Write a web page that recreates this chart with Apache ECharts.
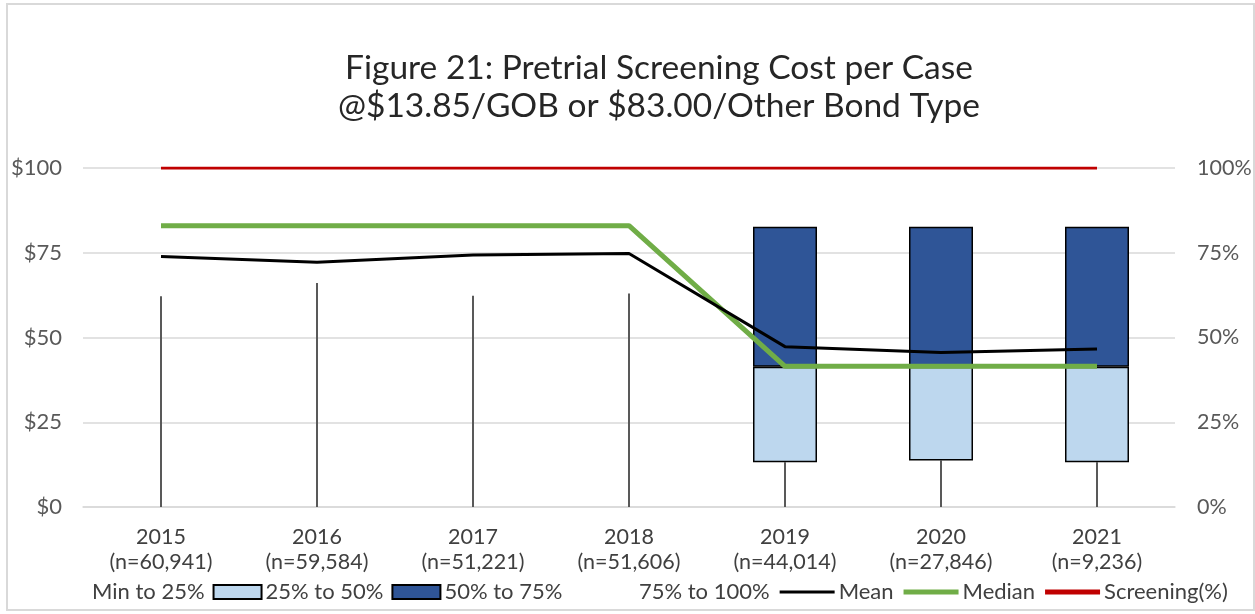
<!DOCTYPE html>
<html>
<head>
<meta charset="utf-8">
<script src="https://cdn.jsdelivr.net/npm/echarts@6/dist/echarts.min.js"></script>
<style>
body { margin: 0; background: #ffffff; }
#chart { position: absolute; left: 0; top: 0; width: 1255px; height: 614px; }
.frame { position: absolute; left: 6px; top: 3px; width: 1249px; height: 608px; border: 2px solid #d9d9d9; box-sizing: border-box; pointer-events: none; }
</style>
</head>
<body>
<div id="chart"></div>
<div class="frame"></div>
<script>
// categories
const years = ['2015', '2016', '2017', '2018', '2019', '2020', '2021']
const caseCounts = ['60,941', '59,584', '51,221', '51,606', '44,014', '27,846', '9,236']

// whiskers (min to 25%)
const whiskerLow = [0, 0, 0, 0, 0, 0, 0]
const whiskerHigh = [62.2, 66.1, 62.3, 63.0, 13.2, 13.7, 13.2]

// stacked box parts
const minTo25 = ['-', '-', '-', '-', 13.2, 13.7, 13.2]
const p25to50 = ['-', '-', '-', '-', 28.2, 27.7, 28.2]
const p50to75 = ['-', '-', '-', '-', 41.3, 41.3, 41.3]
const p75to100 = ['-', '-', '-', '-', '-', '-', '-']

// lines
const meanCost = [73.9, 72.2, 74.3, 74.8, 47.3, 45.6, 46.6]
const medianCost = [83.0, 83.0, 83.0, 83.0, 41.5, 41.5, 41.5]
const screeningPct = [1, 1, 1, 1, 1, 1, 1]

const labelFont = 'Lato'
const chart = echarts.init(document.getElementById('chart'))

// flat bars used as line icons in the legend (thickness comes from aspect ratio)
const lineIcon = h => 'path://M0 0H55V' + h + 'H0Z'

const legendText = { fontFamily: labelFont, fontSize: 22, color: '#404040', padding: [0, 0, 0, -1] }

const option = {
  animation: false,
  title: {
    text: 'Figure 21: Pretrial Screening Cost per Case\n@$13.85/GOB or $83.00/Other Bond Type',
    left: 654,
    top: 44,
    textAlign: 'center',
    textStyle: {
      fontFamily: labelFont,
      fontSize: 33.5,
      fontWeight: 'normal',
      lineHeight: 38,
      color: '#262626'
    }
  },
  legend: [
    {
      left: 35,
      top: 576,
      itemWidth: 48,
      itemHeight: 14,
      itemGap: 8,
      selectedMode: false,
      textStyle: legendText,
      data: [
        { name: 'Min to 25%', icon: 'rect' },
        { name: '25% to 50%', icon: 'rect' },
        { name: '50% to 75%', icon: 'rect' }
      ]
    },
    {
      left: 575,
      top: 576,
      itemWidth: 55,
      itemHeight: 14,
      itemGap: 10,
      selectedMode: false,
      textStyle: legendText,
      data: [
        { name: '75% to 100%', icon: 'rect' },
        { name: 'Mean', icon: lineIcon(3) },
        { name: 'Median', icon: lineIcon(5) },
        { name: 'Screening(%)', icon: lineIcon(5) }
      ]
    }
  ],
  grid: {
    left: 83,
    right: 80,
    top: 168,
    bottom: 107
  },
  xAxis: {
    type: 'category',
    data: years.map((y, i) => y + '\n(n=' + caseCounts[i] + ')'),
    axisTick: { show: false },
    axisLine: { lineStyle: { color: '#d9d9d9', width: 1.5 } },
    axisLabel: {
      margin: 18,
      fontFamily: labelFont,
      fontSize: 21.5,
      lineHeight: 25,
      color: '#404040'
    }
  },
  yAxis: [
    {
      type: 'value',
      min: 0,
      max: 100,
      interval: 25,
      axisLine: { show: false },
      axisTick: { show: false },
      splitLine: { lineStyle: { color: '#d9d9d9', width: 1.5 } },
      axisLabel: {
        margin: 21,
        formatter: v => '$' + v,
        fontFamily: labelFont,
        fontSize: 22,
        color: '#595959'
      }
    },
    {
      type: 'value',
      min: 0,
      max: 1,
      interval: 0.25,
      axisLine: { show: false },
      axisTick: { show: false },
      splitLine: { show: false },
      axisLabel: {
        margin: 22,
        formatter: v => Math.round(v * 100) + '%',
        fontFamily: labelFont,
        fontSize: 21.5,
        color: '#595959'
      }
    }
  ],
  series: [
    {
      name: 'whisker',
      type: 'custom',
      z: 1,
      renderItem: function (params, api) {
        const lo = api.coord([api.value(0), api.value(1)])
        const hi = api.coord([api.value(0), api.value(2)])
        return {
          type: 'line',
          shape: { x1: lo[0], y1: lo[1], x2: hi[0], y2: hi[1] },
          style: { stroke: '#595959', lineWidth: 2 }
        }
      },
      encode: { x: 0, y: [1, 2] },
      data: years.map((y, i) => [i, whiskerLow[i], whiskerHigh[i]])
    },
    {
      name: 'Min to 25%',
      type: 'bar',
      stack: 'box',
      barWidth: 64,
      z: 2,
      itemStyle: { color: 'transparent', borderWidth: 0 },
      data: minTo25
    },
    {
      name: '25% to 50%',
      type: 'bar',
      stack: 'box',
      z: 2,
      itemStyle: { color: '#bdd7ee', borderColor: '#000000', borderWidth: 1.5 },
      data: p25to50
    },
    {
      name: '50% to 75%',
      type: 'bar',
      stack: 'box',
      z: 2,
      itemStyle: { color: '#2f5597', borderColor: '#000000', borderWidth: 1.5 },
      data: p50to75
    },
    {
      name: '75% to 100%',
      type: 'bar',
      stack: 'box',
      z: 2,
      itemStyle: { color: 'transparent', borderWidth: 0 },
      data: p75to100
    },
    {
      name: 'Mean',
      type: 'line',
      z: 5,
      symbol: 'none',
      lineStyle: { color: '#000000', width: 3 },
      itemStyle: { color: '#000000' },
      data: meanCost
    },
    {
      name: 'Median',
      type: 'line',
      z: 4,
      symbol: 'none',
      lineStyle: { color: '#70ad47', width: 5 },
      itemStyle: { color: '#70ad47' },
      data: medianCost
    },
    {
      name: 'Screening(%)',
      type: 'line',
      yAxisIndex: 1,
      z: 4,
      symbol: 'none',
      lineStyle: { color: '#c00000', width: 3 },
      itemStyle: { color: '#c00000' },
      data: screeningPct
    }
  ]
}

chart.setOption(option)
</script>
</body>
</html>
